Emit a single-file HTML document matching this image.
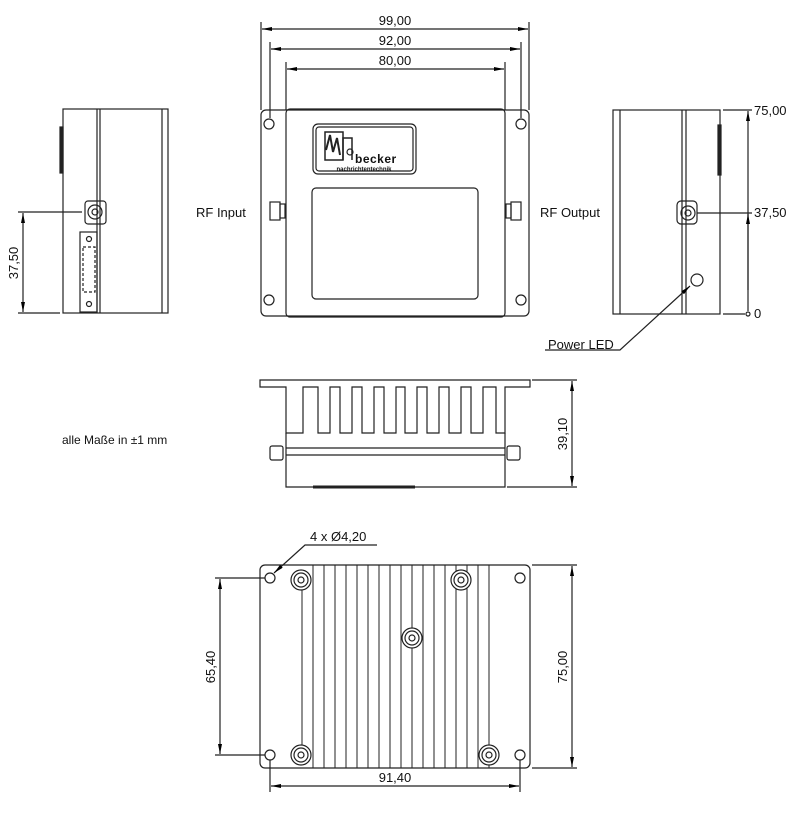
<!DOCTYPE html>
<html><head><meta charset="utf-8"><style>
html,body{margin:0;padding:0;background:#fff}
svg{display:block}
text{font-family:"Liberation Sans",Arial,sans-serif;fill:#111}
</style></head><body>
<svg width="800" height="831" viewBox="0 0 800 831" xmlns="http://www.w3.org/2000/svg">
<defs>
<marker id="a" viewBox="0 0 10 4" refX="10" refY="2" markerWidth="10" markerHeight="4" orient="auto-start-reverse" markerUnits="userSpaceOnUse"><path d="M0,0 L10,2 L0,4z" fill="#000"/></marker>
</defs>
<g fill="none" stroke="#222" stroke-width="1.2">
<!-- TOP VIEW dims -->
<line x1="261" y1="22" x2="261" y2="110"/><line x1="529" y1="22" x2="529" y2="110"/>
<line x1="270" y1="42" x2="270" y2="118"/><line x1="521" y1="42" x2="521" y2="118"/>
<line x1="286" y1="62" x2="286" y2="110"/><line x1="505" y1="62" x2="505" y2="110"/>
<line x1="262" y1="29" x2="528" y2="29" marker-start="url(#a)" marker-end="url(#a)"/>
<line x1="271" y1="49" x2="520" y2="49" marker-start="url(#a)" marker-end="url(#a)"/>
<line x1="287" y1="69" x2="504" y2="69" marker-start="url(#a)" marker-end="url(#a)"/>
<!-- plate -->
<rect x="261" y="110" width="268" height="206" rx="5"/>
<rect x="286" y="109" width="219" height="208" rx="4"/>
<circle cx="269" cy="124" r="5"/><circle cx="521" cy="124" r="5"/>
<circle cx="269" cy="300" r="5"/><circle cx="521" cy="300" r="5"/>
<rect x="313" y="124" width="103" height="50" rx="5"/>
<rect x="316" y="127" width="97" height="44" rx="3"/>
<rect x="325" y="132" width="18" height="28" stroke-width="1.5"/>
<path d="M343,160 L343,138 L352,138 L352,160" stroke-width="1.5"/>
<path d="M326,150 L330,135 L333,152 L337,138 L340,155" stroke-width="2"/>
<circle cx="350" cy="152" r="3"/>
<rect x="312" y="188" width="166" height="111" rx="4"/>
<rect x="270" y="202" width="10" height="18"/><rect x="280" y="204" width="5" height="14"/>
<rect x="511" y="202" width="10" height="18"/><rect x="506" y="204" width="5" height="14"/>
<!-- LEFT SIDE VIEW -->
<rect x="63" y="109" width="105" height="204"/>
<line x1="97" y1="109" x2="97" y2="313"/><line x1="100" y1="109" x2="100" y2="313"/>
<line x1="162" y1="109" x2="162" y2="313"/>
<rect x="60" y="127" width="3" height="46" fill="#222"/>
<rect x="85" y="201" width="21" height="23" rx="3"/>
<circle cx="95" cy="212" r="7"/><circle cx="95" cy="212" r="3"/>
<rect x="80" y="232" width="17" height="80"/>
<circle cx="89" cy="239" r="2.5"/><circle cx="89" cy="304" r="2.5"/>
<rect x="83" y="247" width="12" height="45" stroke-dasharray="3,2"/>
<line x1="18" y1="212" x2="82" y2="212"/><line x1="18" y1="313" x2="60" y2="313"/>
<line x1="23" y1="213" x2="23" y2="312" marker-start="url(#a)" marker-end="url(#a)"/>
<!-- RIGHT SIDE VIEW -->
<rect x="613" y="110" width="107" height="204"/>
<line x1="620" y1="110" x2="620" y2="314"/>
<line x1="682" y1="110" x2="682" y2="314"/><line x1="686" y1="110" x2="686" y2="314"/>
<rect x="718" y="125" width="3" height="50" fill="#222"/>
<rect x="677" y="201" width="20" height="23" rx="4"/>
<circle cx="688" cy="213" r="7"/><circle cx="688" cy="213" r="3"/>
<circle cx="697" cy="280" r="6"/>
<line x1="723" y1="110" x2="752" y2="110"/><line x1="697" y1="213" x2="752" y2="213"/><line x1="723" y1="314" x2="745" y2="314"/>
<line x1="748" y1="311" x2="748" y2="111" marker-end="url(#a)"/>
<line x1="748" y1="290" x2="748" y2="214" marker-end="url(#a)"/>
<circle cx="748" cy="314" r="2"/>
<path d="M545,350 L620,350 L690,286" marker-end="url(#a)"/>
<!-- SIDE HEATSINK VIEW -->
<path d="M260,380 L530,380 L530,387 L505,387 L505,433 L496,433 L496,387 L483,387 L483,433 L471,433 L471,387 L461,387 L461,433 L449,433 L449,387 L439,387 L439,433 L427,433 L427,387 L417,387 L417,433 L405,433 L405,387 L396,387 L396,433 L384,433 L384,387 L374,387 L374,433 L362,433 L362,387 L352,387 L352,433 L340,433 L340,387 L330,387 L330,433 L318,433 L318,387 L303,387 L303,433 L286,433 L286,387 L260,387 Z"/>
<path d="M286,433 L286,487 L505,487 L505,433"/>
<line x1="286" y1="448" x2="505" y2="448"/><line x1="286" y1="455" x2="505" y2="455"/>
<line x1="313" y1="487" x2="415" y2="487" stroke-width="3"/>
<rect x="270" y="446" width="13" height="14" rx="2"/><rect x="507" y="446" width="13" height="14" rx="2"/>
<line x1="532" y1="380" x2="577" y2="380"/><line x1="507" y1="487" x2="577" y2="487"/>
<line x1="572" y1="381" x2="572" y2="486" marker-start="url(#a)" marker-end="url(#a)"/>
<!-- BOTTOM VIEW -->
<rect x="260" y="565" width="270" height="203" rx="5"/>
<circle cx="270" cy="578" r="5"/><circle cx="520" cy="578" r="5"/>
<circle cx="270" cy="755" r="5"/><circle cx="520" cy="755" r="5"/>
<g stroke-width="1">
<line x1="313" y1="565" x2="313" y2="768"/><line x1="324" y1="565" x2="324" y2="768"/><line x1="335" y1="565" x2="335" y2="768"/><line x1="346" y1="565" x2="346" y2="768"/><line x1="357" y1="565" x2="357" y2="768"/><line x1="368" y1="565" x2="368" y2="768"/><line x1="379" y1="565" x2="379" y2="768"/><line x1="390" y1="565" x2="390" y2="768"/><line x1="401" y1="565" x2="401" y2="768"/><line x1="412" y1="565" x2="412" y2="768"/><line x1="423" y1="565" x2="423" y2="768"/><line x1="434" y1="565" x2="434" y2="768"/><line x1="445" y1="565" x2="445" y2="768"/><line x1="456" y1="565" x2="456" y2="768"/><line x1="467" y1="565" x2="467" y2="768"/><line x1="478" y1="565" x2="478" y2="768"/><line x1="489" y1="565" x2="489" y2="768"/>
<line x1="302" y1="580" x2="302" y2="755"/>
</g>
<g fill="#fff">
<circle cx="301" cy="580" r="10"/><circle cx="301" cy="580" r="7"/><circle cx="301" cy="580" r="3"/>
<circle cx="461" cy="580" r="10"/><circle cx="461" cy="580" r="7"/><circle cx="461" cy="580" r="3"/>
<circle cx="412" cy="638" r="10"/><circle cx="412" cy="638" r="7"/><circle cx="412" cy="638" r="3"/>
<circle cx="301" cy="755" r="10"/><circle cx="301" cy="755" r="7"/><circle cx="301" cy="755" r="3"/>
<circle cx="489" cy="755" r="10"/><circle cx="489" cy="755" r="7"/><circle cx="489" cy="755" r="3"/>
</g>
<line x1="215" y1="578" x2="265" y2="578"/><line x1="215" y1="755" x2="265" y2="755"/>
<line x1="220" y1="579" x2="220" y2="754" marker-start="url(#a)" marker-end="url(#a)"/>
<line x1="532" y1="565" x2="577" y2="565"/><line x1="532" y1="768" x2="577" y2="768"/>
<line x1="572" y1="566" x2="572" y2="767" marker-start="url(#a)" marker-end="url(#a)"/>
<line x1="270" y1="760" x2="270" y2="792"/><line x1="520" y1="760" x2="520" y2="792"/>
<line x1="271" y1="786" x2="519" y2="786" marker-start="url(#a)" marker-end="url(#a)"/>
<path d="M377,545 L305,545 L274,573" marker-end="url(#a)"/>
</g>
<g font-size="13" text-anchor="middle">
<text x="395" y="25">99,00</text>
<text x="395" y="45">92,00</text>
<text x="395" y="65">80,00</text>
</g>
<text x="196" y="217" font-size="13">RF Input</text>
<text x="540" y="217" font-size="13">RF Output</text>
<text x="754" y="115" font-size="13">75,00</text>
<text x="754" y="217" font-size="13">37,50</text>
<text x="754" y="318" font-size="13">0</text>
<text x="548" y="349" font-size="13">Power LED</text>
<text x="62" y="444" font-size="12">alle Maße in ±1 mm</text>
<text x="310" y="541" font-size="13">4 x Ø4,20</text>
<text x="395" y="782" font-size="13" text-anchor="middle">91,40</text>
<text transform="translate(18,263) rotate(-90)" font-size="13" text-anchor="middle">37,50</text>
<text transform="translate(567,434) rotate(-90)" font-size="13" text-anchor="middle">39,10</text>
<text transform="translate(215,667) rotate(-90)" font-size="13" text-anchor="middle">65,40</text>
<text transform="translate(567,667) rotate(-90)" font-size="13" text-anchor="middle">75,00</text>
<text x="355" y="163" font-size="12" font-weight="bold" letter-spacing="0.5">becker</text>
<text x="364" y="171" font-size="6" font-weight="bold" text-anchor="middle">nachrichtentechnik</text>
</svg>
</body></html>
